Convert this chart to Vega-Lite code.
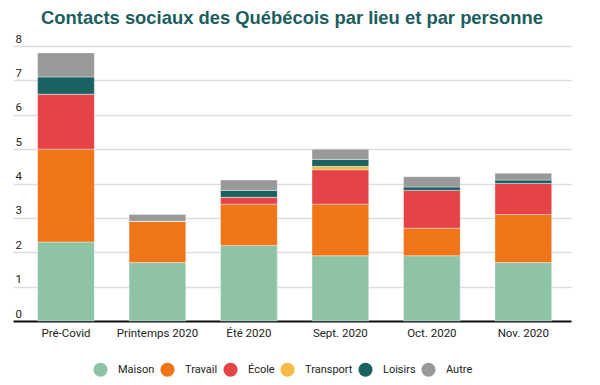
{
  "$schema": "https://vega.github.io/schema/vega-lite/v6.json",
  "autosize": "none",
  "width": 558,
  "height": 275,
  "padding": {"left": 13, "top": 46, "right": 29, "bottom": 64},
  "background": "white",
  "title": {
    "text": "Contacts sociaux des Québécois par lieu et par personne",
    "font": "Liberation Sans",
    "fontSize": 18.4,
    "fontWeight": "bold",
    "color": "#1b5e5e",
    "anchor": "middle",
    "offset": 6
  },
  "data": {
    "values": [
      {"periode": "Pré-Covid", "lieu": "Maison", "contacts": 2.3},
      {"periode": "Pré-Covid", "lieu": "Travail", "contacts": 2.7},
      {"periode": "Pré-Covid", "lieu": "École", "contacts": 1.6},
      {"periode": "Pré-Covid", "lieu": "Transport", "contacts": 0},
      {"periode": "Pré-Covid", "lieu": "Loisirs", "contacts": 0.5},
      {"periode": "Pré-Covid", "lieu": "Autre", "contacts": 0.7},
      {"periode": "Printemps 2020", "lieu": "Maison", "contacts": 1.7},
      {"periode": "Printemps 2020", "lieu": "Travail", "contacts": 1.2},
      {"periode": "Printemps 2020", "lieu": "École", "contacts": 0},
      {"periode": "Printemps 2020", "lieu": "Transport", "contacts": 0},
      {"periode": "Printemps 2020", "lieu": "Loisirs", "contacts": 0},
      {"periode": "Printemps 2020", "lieu": "Autre", "contacts": 0.2},
      {"periode": "Été 2020", "lieu": "Maison", "contacts": 2.2},
      {"periode": "Été 2020", "lieu": "Travail", "contacts": 1.2},
      {"periode": "Été 2020", "lieu": "École", "contacts": 0.2},
      {"periode": "Été 2020", "lieu": "Transport", "contacts": 0},
      {"periode": "Été 2020", "lieu": "Loisirs", "contacts": 0.2},
      {"periode": "Été 2020", "lieu": "Autre", "contacts": 0.3},
      {"periode": "Sept. 2020", "lieu": "Maison", "contacts": 1.9},
      {"periode": "Sept. 2020", "lieu": "Travail", "contacts": 1.5},
      {"periode": "Sept. 2020", "lieu": "École", "contacts": 1.0},
      {"periode": "Sept. 2020", "lieu": "Transport", "contacts": 0.1},
      {"periode": "Sept. 2020", "lieu": "Loisirs", "contacts": 0.2},
      {"periode": "Sept. 2020", "lieu": "Autre", "contacts": 0.3},
      {"periode": "Oct. 2020", "lieu": "Maison", "contacts": 1.9},
      {"periode": "Oct. 2020", "lieu": "Travail", "contacts": 0.8},
      {"periode": "Oct. 2020", "lieu": "École", "contacts": 1.1},
      {"periode": "Oct. 2020", "lieu": "Transport", "contacts": 0},
      {"periode": "Oct. 2020", "lieu": "Loisirs", "contacts": 0.1},
      {"periode": "Oct. 2020", "lieu": "Autre", "contacts": 0.3},
      {"periode": "Nov. 2020", "lieu": "Maison", "contacts": 1.7},
      {"periode": "Nov. 2020", "lieu": "Travail", "contacts": 1.4},
      {"periode": "Nov. 2020", "lieu": "École", "contacts": 0.9},
      {"periode": "Nov. 2020", "lieu": "Transport", "contacts": 0},
      {"periode": "Nov. 2020", "lieu": "Loisirs", "contacts": 0.1},
      {"periode": "Nov. 2020", "lieu": "Autre", "contacts": 0.2}
    ]
  },
  "transform": [
    {"calculate": "indexof(['Maison', 'Travail', 'École', 'Transport', 'Loisirs', 'Autre'], datum.lieu)", "as": "ordre"}
  ],
  "mark": {"type": "bar", "stroke": "white", "strokeWidth": 0.6, "strokeOpacity": 0.6},
  "encoding": {
    "x": {
      "field": "periode",
      "type": "nominal",
      "sort": ["Pré-Covid", "Printemps 2020", "Été 2020", "Sept. 2020", "Oct. 2020", "Nov. 2020"],
      "scale": {"paddingInner": 0.38, "paddingOuter": 0.24, "align": 0.56},
      "axis": {
        "title": null,
        "labelAngle": 0,
        "ticks": false,
        "labelPadding": 6,
        "labelFont": "Roboto",
        "labelFontSize": 11.5,
        "labelColor": "#222222",
        "domainColor": "#111111",
        "domainWidth": 2,
        "grid": false
      }
    },
    "y": {
      "field": "contacts",
      "type": "quantitative",
      "stack": "zero",
      "scale": {"domain": [0, 8], "nice": false},
      "axis": {
        "title": null,
        "values": [0, 1, 2, 3, 4, 5, 6, 7, 8],
        "domain": false,
        "ticks": false,
        "tickSize": 0,
        "labelAlign": "left",
        "labelBaseline": "alphabetic",
        "labelPadding": -2,
        "labelOffset": -4,
        "labelFont": "Roboto",
        "labelFontSize": 11.5,
        "labelColor": "#222222",
        "gridColor": "#dddddd",
        "gridWidth": 1.5
      }
    },
    "color": {
      "field": "lieu",
      "type": "nominal",
      "sort": ["Maison", "Travail", "École", "Transport", "Loisirs", "Autre"],
      "scale": {
        "domain": ["Maison", "Travail", "École", "Transport", "Loisirs", "Autre"],
        "range": ["#8fc3a6", "#ef7518", "#e64346", "#f3bb45", "#1a6262", "#999999"]
      },
      "legend": {
        "title": null,
        "orient": "none",
        "direction": "horizontal",
        "legendX": 80,
        "legendY": 316,
        "symbolType": "circle",
        "symbolSize": 200,
        "symbolStrokeWidth": 0,
        "symbolOpacity": 1,
        "labelFont": "Roboto",
        "labelFontSize": 11,
        "labelColor": "#222222",
        "labelOffset": 10,
        "columnPadding": 5
      }
    },
    "order": {"field": "ordre", "type": "quantitative", "sort": "ascending"}
  },
  "config": {"view": {"stroke": null}}
}
